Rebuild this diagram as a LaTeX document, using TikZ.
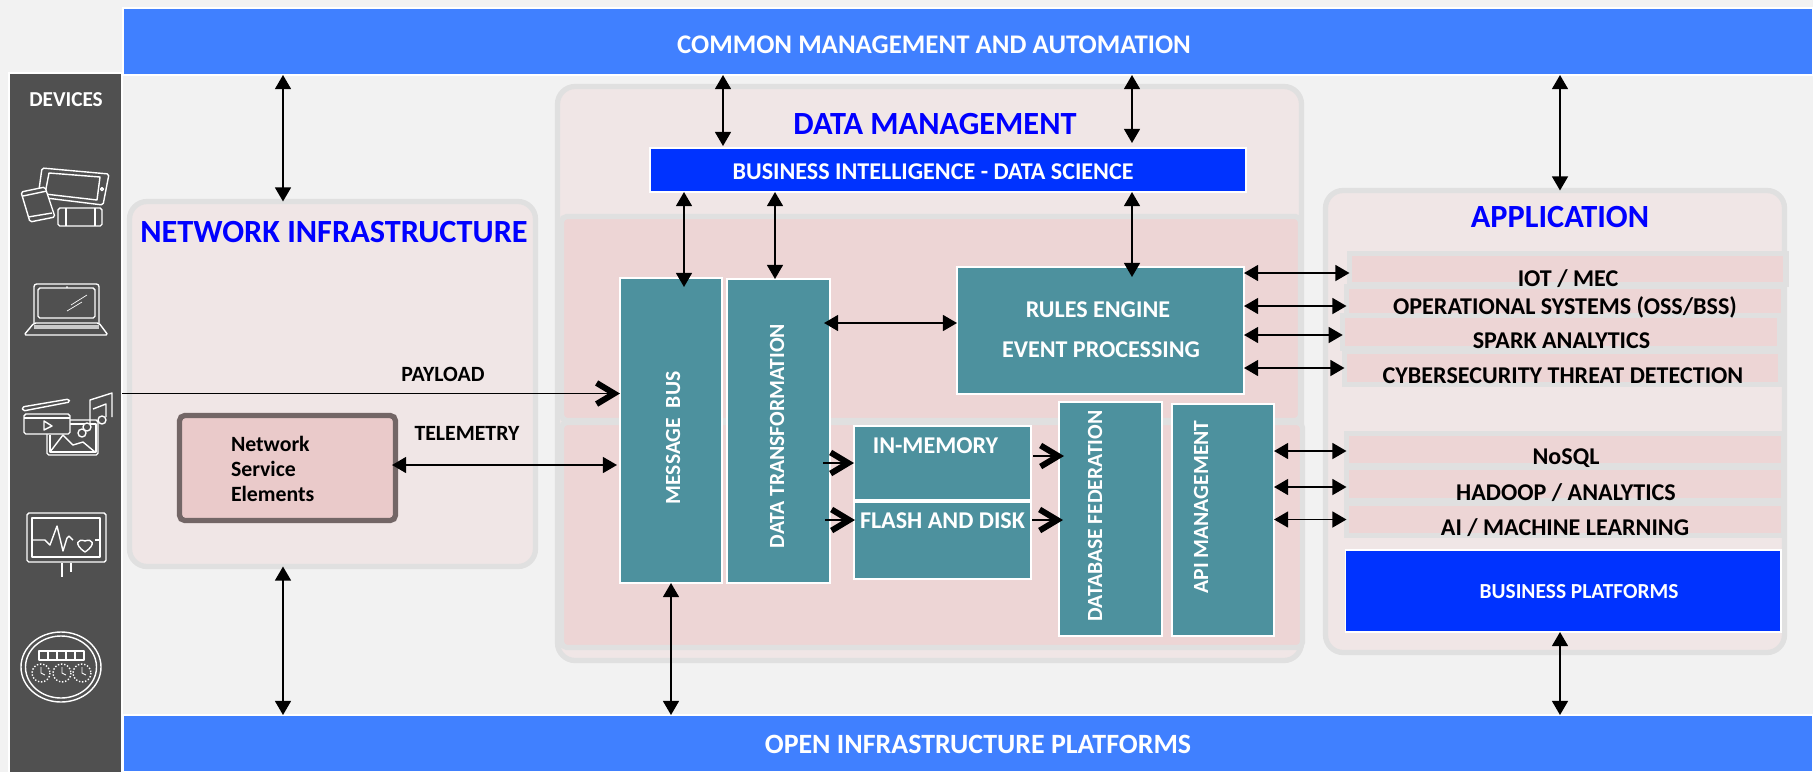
\documentclass[tikz,border=0pt]{standalone}
\usepackage{fontspec}
\setmainfont{Carlito}
\usetikzlibrary{arrows.meta}
\def\px{0.02cm}
\definecolor{backgr}{HTML}{F2F2F2}
\definecolor{barblue}{HTML}{4080FF}
\definecolor{deepblue}{HTML}{0033FF}
\definecolor{headblue}{HTML}{0000FF}
\definecolor{tealbox}{HTML}{4D919E}
\definecolor{panelpink}{HTML}{F0E6E6}
\definecolor{rowpink}{HTML}{EDD5D5}
\definecolor{panelline}{HTML}{E0E0E0}
\definecolor{devgray}{HTML}{505050}
\definecolor{elemfill}{HTML}{EACACA}
\definecolor{elemline}{HTML}{736666}
\tikzset{
    every node/.style={outer sep=0pt,inner sep=0pt},
    wh/.style 2 args={minimum width=#1*\px,minimum height=#2*\px},
    bar/.style={rectangle,fill=barblue,draw=white,line width=1pt},
    panel/.style={rectangle,rounded corners=10pt,fill=panelpink,draw=panelline,line width=3pt},
    inner/.style={rectangle,rounded corners=3pt,fill=rowpink,draw=panelline,line width=3pt},
    row/.style={rectangle,fill=rowpink,draw=panelline,line width=3pt},
    deep/.style={rectangle,fill=deepblue,draw=white,line width=1pt},
    teal/.style={rectangle,fill=tealbox,draw=white,line width=1pt},
    whitetxt/.style={text=white,font=\fontsize{15.3}{18}\selectfont\bfseries},
    headtxt/.style={text=headblue,font=\fontsize{18.4}{20}\selectfont\bfseries},
    rowtxt/.style={text=black,font=\fontsize{13.7}{14}\selectfont\bfseries},
    boxtxt/.style={text=white,font=\fontsize{13.7}{14}\selectfont\bfseries},
    vtxtnode/.style={text=white,rotate=90,font=\fontsize{12.3}{14}\selectfont\bfseries},
    smalltxt/.style={text=black,font=\fontsize{12.4}{14}\selectfont\bfseries},
    dbl/.style={{Triangle[length=8pt,width=9pt]}-{Triangle[length=8pt,width=9pt]},line width=1.1pt,black},
    chev/.style={-{Straight Barb[length=10pt,width=12pt,line width=3.4pt]},line width=0.7pt,black},
    icon/.style={draw=white,line width=0.8pt,line join=round}
}
\begin{document}
\begin{tikzpicture}[x=0.02cm,y=-0.02cm]
    \useasboundingbox (0,0) rectangle (1813,772);
    \fill[backgr] (0,0) rectangle (1813,772);

    % bars and panels
    \node[bar,wh={1690}{67}] (topbar) at (968,41.5) {};
    \node[bar,wh={1690}{57}] (botbar) at (968,743.5) {};
    \node[rectangle,fill=devgray,draw=white,line width=1pt,wh={113}{700}] (devices) at (65.5,423) {};

    \node[panel,wh={406}{365}] (net) at (332.5,384) {};
    \node[panel,wh={744}{574}] (data) at (929.5,373.5) {};
    \node[panel,wh={459}{462}] (app) at (1555,421.5) {};
    \node[inner,wh={739}{204}] (upper) at (931,318.5) {};
    \node[inner,wh={741}{225}] (lower) at (932,535) {};

    \node[row,wh={436.5}{31}] (iot) at (1567.75,269) {};
    \node[row,wh={437}{29}] (oss) at (1565,301) {};
    \node[row,wh={436.5}{33}] (spark) at (1561,332) {};
    \node[row,wh={436}{33}] (cyber) at (1562.5,368) {};
    \node[row,wh={437}{32}] (nosql) at (1565,449.5) {};
    \node[row,wh={437}{33}] (hadoop) at (1565,484) {};
    \node[row,wh={437}{32}] (ai) at (1565,519.5) {};
    \node[deep,wh={435.5}{82}] (platforms) at (1563.25,591) {};
    \node[deep,wh={596}{44}] (bi) at (948,170) {};

    \node[teal,wh={102}{305}] (bus) at (671,430.5) {};
    \node[teal,wh={103}{304}] (trans) at (778.5,431) {};
    \node[teal,wh={287}{127}] (rules) at (1100.5,330.5) {};
    \node[teal,wh={177}{74}] (memory) at (942.5,463) {};
    \node[teal,wh={177}{77}] (flash) at (942.5,540.5) {};
    \node[teal,wh={103}{234}] (federation) at (1110.5,519) {};
    \node[teal,wh={102}{232}] (apimgmt) at (1223,520) {};

    \node[rectangle,rounded corners=3pt,fill=elemfill,draw=elemline,line width=3pt,wh={216}{105}] (elements) at (287.5,468) {};

    % texts
    \node[whitetxt] (toptxt) at (934,45) {COMMON MANAGEMENT AND AUTOMATION};
    \node[whitetxt,font=\fontsize{15.9}{18}\selectfont\bfseries] (bottxt) at (978,744) {OPEN INFRASTRUCTURE PLATFORMS};
    \node[boxtxt,font=\fontsize{12.1}{14}\selectfont\bfseries] (devtxt) at (66,100) {DEVICES};
    \node[headtxt] (nettxt) at (334,232) {NETWORK INFRASTRUCTURE};
    \node[headtxt] (datatxt) at (935,124) {DATA MANAGEMENT};
    \node[headtxt] (apptxt) at (1560,217) {APPLICATION};
    \node[boxtxt] (bitxt) at (933,172) {BUSINESS INTELLIGENCE - DATA SCIENCE};
    \node[boxtxt] (rulestxt) at (1098,310) {RULES ENGINE};
    \node[boxtxt] (eventtxt) at (1101,350) {EVENT PROCESSING};
    \node[boxtxt] (memtxt) at (935.5,446) {IN-MEMORY};
    \node[boxtxt] (flashtxt) at (942.5,521) {FLASH AND DISK};
    \node[boxtxt,font=\fontsize{12.2}{14}\selectfont\bfseries] (plattxt) at (1579,592) {BUSINESS PLATFORMS};
    \node[vtxtnode] (bustxt) at (673,438) {MESSAGE\ \ BUS};
    \node[vtxtnode] (transtxt) at (777,436) {DATA TRANSFORMATION};
    \node[vtxtnode] (fedtxt) at (1095,516) {DATABASE FEDERATION};
    \node[vtxtnode] (apitxt) at (1201,507) {API MANAGEMENT};
    \node[rowtxt] (iottxt) at (1568,278.5) {IOT / MEC};
    \node[rowtxt] (osstxt) at (1565,307.5) {OPERATIONAL SYSTEMS (OSS/BSS)};
    \node[rowtxt] (sparktxt) at (1561.5,341) {SPARK ANALYTICS};
    \node[rowtxt] (cybertxt) at (1563,376) {CYBERSECURITY THREAT DETECTION};
    \node[rowtxt] (nosqltxt) at (1566,458) {NoSQL};
    \node[rowtxt] (hadooptxt) at (1566,493) {HADOOP / ANALYTICS};
    \node[rowtxt] (aitxt) at (1565,528) {AI / MACHINE LEARNING};
    \node[smalltxt] (paytxt) at (443,374) {PAYLOAD};
    \node[smalltxt] (teltxt) at (467,433) {TELEMETRY};
    \node[smalltxt,align=left,anchor=west] (elemtxt) at (231,469) {Network\\Service\\Elements};

    % vertical links
    \draw[dbl] ([xshift=-49.5*\px]net.north |- topbar.south) -- ([xshift=-49.5*\px]net.north);
    \draw[dbl] ([xshift=-49.5*\px]net.south) -- ([xshift=-49.5*\px]net.south |- botbar.north);
    \draw[dbl] ([xshift=-225*\px]bi.north |- topbar.south) -- ([xshift=-225*\px,yshift=2*\px]bi.north);
    \draw[dbl] ([xshift=184*\px]bi.north |- topbar.south) -- ([xshift=184*\px,yshift=5*\px]bi.north);
    \draw[dbl] ([xshift=13*\px]bus.north |- bi.south) -- ([xshift=13*\px,yshift=-9*\px]bus.north);
    \draw[dbl] ([xshift=-3.5*\px]trans.north |- bi.south) -- ([xshift=-3.5*\px]trans.north);
    \draw[dbl] ([xshift=31.5*\px]rules.north |- bi.south) -- ([xshift=31.5*\px,yshift=-10*\px]rules.north);
    \draw[dbl] (bus.south) -- (bus.south |- botbar.north);
    \draw[dbl] ([xshift=5*\px]app.north |- topbar.south) -- ([xshift=5*\px]app.north);
    \draw[dbl] ([xshift=-3.25*\px]platforms.south) -- ([xshift=-3.25*\px]platforms.south |- botbar.north);

    % horizontal links
    \draw[dbl] ([xshift=-6*\px,yshift=7.5*\px]rules.west -| trans.east) -- ([yshift=7.5*\px]rules.west);
    \draw[dbl] ([yshift=-4*\px]iot.west -| rules.east) -- ([yshift=-4*\px]iot.west);
    \draw[dbl] ([yshift=-5*\px]oss.west -| rules.east) -- ([yshift=-5*\px]oss.west);
    \draw[dbl] ([yshift=-3*\px]spark.west -| rules.east) -- ([yshift=-3*\px]spark.west);
    \draw[dbl] (cyber.west -| rules.east) -- (cyber.west);
    \draw[dbl] ([yshift=-1.5*\px]nosql.west -| apimgmt.east) -- ([yshift=-1.5*\px]nosql.west);
    \draw[dbl] ([yshift=-3*\px]hadoop.west -| apimgmt.east) -- ([yshift=-3*\px]hadoop.west);
    \draw[dbl] (ai.west -| apimgmt.east) -- (ai.west);
    \draw[dbl] ([xshift=-3.5*\px,yshift=3*\px]elements.east) -- ([xshift=-3*\px,yshift=3*\px]elements.east -| bus.west);

    % payload and storage links
    \draw[chev] ([yshift=37*\px]bus.west -| devices.east) -- ([yshift=37*\px]bus.west);
    \draw[chev] ([xshift=-7*\px]trans.east |- memory.west) -- (memory.west);
    \draw[chev] ([xshift=-5*\px,yshift=20.5*\px]trans.east |- flash.west) -- ([xshift=1*\px,yshift=20.5*\px]flash.west);
    \draw[chev] ([xshift=2*\px,yshift=7*\px]memory.east) -- ([xshift=5*\px,yshift=7*\px]federation.west |- memory.east);
    \draw[chev] ([xshift=1*\px,yshift=20.5*\px]flash.east) -- ([xshift=4*\px,yshift=20.5*\px]federation.west |- flash.east);

    % device icons
    \begin{scope}[icon]
        \draw[rounded corners=1pt] (42,168) -- (109,174) -- (103,205) -- (38,197) -- cycle;
        \draw (49,173) -- (100,177) -- (97,200) -- (45,194) -- cycle;
        \draw (102,189) circle (1.5);
        \draw[rounded corners=1pt,fill=devgray] (21,192) -- (45,187) -- (55,217) -- (30,222) -- cycle;
        \draw (23,196) -- (47,191) (28,217) -- (52,213);
        \draw[rounded corners=1pt,fill=devgray] (58,208) rectangle (102,226);
        \draw (66,208) -- (66,226) (95,208) -- (95,226);

        \draw[rounded corners=1.5pt] (34,323) -- (34,284) -- (99,284) -- (99,323);
        \draw[rounded corners=1pt] (38,288) rectangle (95,318);
        \draw[rounded corners=1pt] (34,323) -- (99,323) -- (108,335) -- (24,335) -- cycle;
        \fill[white] (67,287) circle (1);
        \draw[line width=0.4pt] (71,305) -- (87,295) (67,311) -- (82,302);
        \fill[white!70!devgray] (34,325) rectangle (99,329);

        \draw[rounded corners=1pt] (47,420) rectangle (98,455);
        \draw (50,435) -- (50,452) -- (96,452) -- (96,424) -- (70,424);
        \draw (50,452) -- (63,435) -- (73,445) -- (83,442) -- (95,452);
        \draw[rounded corners=1pt,fill=devgray] (24,414) rectangle (70,434);
        \draw (24,418) -- (70,418);
        \draw[rounded corners=1pt] (22,407) -- (69,399) -- (70,402) -- (23,411) -- cycle;
        \draw (44,421) -- (52,426) -- (44,430) -- cycle;
        \draw[fill=devgray] (82,433) circle (4);
        \draw (90,427) -- (90,400) -- (112,393) -- (112,417);
        \draw (93,409) -- (106,404) -- (106,417);
        \draw[fill=devgray] (87,427) circle (4);
        \draw[fill=devgray] (102,420) circle (4);

        \draw[rounded corners=1pt] (27,513) rectangle (106,562);
        \draw (32,518) rectangle (100,557);
        \draw (32,540) -- (45,540) -- (50,545) -- (57,526) -- (63,551) -- (67,538) -- (69,536) -- (73,540);
        \draw (95,540) -- (100,540);
        \draw (85,552) .. controls (73,544) and (78,538) .. (85,541) .. controls (92,538) and (97,544) .. (85,552);
        \draw (62,563) -- (62,577) (71,563) -- (71,572);

        \draw (61,667) ellipse (40 and 35);
        \draw (61,667) ellipse (35.5 and 31);
        \foreach \x in {0,...,4}
            {
                \draw (39+\x*9,651) rectangle +(9,9);
            }
        \foreach \x in {41,62,82}
            {
                \draw[densely dotted] (\x,673) circle (9);
                \draw[line width=0.5pt] (\x,667) -- (\x,673) -- (\x+4,675);
            }
    \end{scope}
\end{tikzpicture}
\end{document}
